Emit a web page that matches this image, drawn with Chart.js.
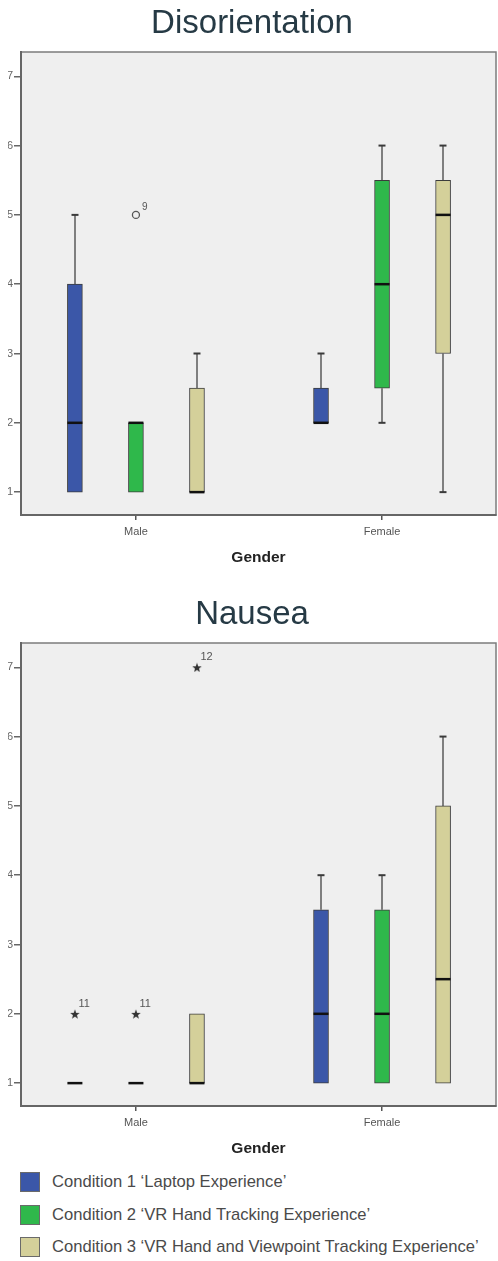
<!DOCTYPE html>
<html>
<head>
<meta charset="utf-8">
<script src="https://cdn.jsdelivr.net/npm/chart.js@4"></script>
<style>
  html, body { margin: 0; padding: 0; background: #fff; }
  body { width: 498px; height: 1261px; position: relative; overflow: hidden;
         font-family: "Liberation Sans", Arial, sans-serif; }
  canvas.plot { position: absolute; left: 0; }
  #legend { position: absolute; left: 20px; top: 1172px; }
  .item { display: flex; align-items: center; height: 20px; margin-bottom: 12.5px; }
  .sw { width: 20px; height: 20px; box-sizing: border-box; border: 1px solid #6a6a6a; margin-right: 12px; }
  .item span { font-size: 16.6px; color: #4a4a4a; white-space: nowrap; }
</style>
</head>
<body>
<canvas id="disorientation" class="plot" width="498" height="570" style="top:0px"></canvas>
<canvas id="nausea" class="plot" width="498" height="570" style="top:591px"></canvas>
<div id="legend"></div>

<script>
// Groups on the x axis and the three experimental conditions
const genders = ['Male', 'Female'];
const conditions = [
  'Condition 1 \u2018Laptop Experience\u2019',
  'Condition 2 \u2018VR Hand Tracking Experience\u2019',
  'Condition 3 \u2018VR Hand and Viewpoint Tracking Experience\u2019'
];
const yTicks = [1, 2, 3, 4, 5, 6, 7];

// Five-number summaries [min, q1, median, q3, max], one row per gender (Male, Female)
const disoLaptop = [[1, 1, 2, 4, 5], [2, 2, 2, 2.5, 3]];
const disoHand   = [[1, 1, 2, 2, 2], [2, 2.5, 4, 5.5, 6]];
const disoView   = [[1, 1, 1, 2.5, 3], [1, 3, 5, 5.5, 6]];

const nauLaptop = [[1, 1, 1, 1, 1], [1, 1, 2, 3.5, 4]];
const nauHand   = [[1, 1, 1, 1, 1], [1, 1, 2, 3.5, 4]];
const nauView   = [[1, 1, 1, 2, 2], [1, 1, 2.5, 5, 6]];

// Outlying cases: [condition index, gender index, value, case label, kind ('o' outlier, '*' extreme)]
const disoOutliers = [[1, 0, 5, '9', 'o']];
const nauOutliers = [[0, 0, 2, '11', '*'], [1, 0, 2, '11', '*'], [2, 0, 7, '12', '*']];

// ---- styling ----
const FONT = '"Liberation Sans", Arial, sans-serif';
const fills = ['#3b57a8', '#2fb84b', '#d4d09a'];
const slotOffset = [-0.248, 0, 0.248];   // where each condition sits around its gender
const BOX_W = 15;

function slotX(c, g) { return g + 1 + slotOffset[c]; }

function starImage(size, color) {
  const cv = document.createElement('canvas');
  cv.width = cv.height = size;
  const ctx = cv.getContext('2d');
  ctx.fillStyle = color;
  ctx.beginPath();
  for (let i = 0; i < 10; i++) {
    const r = i % 2 ? size * 0.21 : size * 0.5;
    const a = -Math.PI / 2 + i * Math.PI / 5;
    ctx.lineTo(size / 2 + r * Math.cos(a), size / 2 + r * Math.sin(a) + size * 0.06);
  }
  ctx.closePath();
  ctx.fill();
  return cv;
}
const starMark = starImage(10, '#333');

// Plot background and frame
const framePlugin = {
  id: 'frame',
  beforeDraw(chart) {
    const { ctx, chartArea: a } = chart;
    ctx.save();
    ctx.fillStyle = '#efefef';
    ctx.fillRect(a.left, a.top, a.right - a.left, a.bottom - a.top);
    ctx.strokeStyle = '#7c7c7c';
    ctx.lineWidth = 1.5;
    ctx.strokeRect(a.left, a.top, a.right - a.left, a.bottom - a.top);
    ctx.restore();
  }
};

// Whiskers, medians and case labels computed from the summaries via the chart scales
const boxPlugin = {
  id: 'boxparts',
  beforeDatasetsDraw(chart, args, opts) {
    const { ctx, scales: { x, y } } = chart;
    ctx.save();
    opts.summaries.forEach((rows, c) => rows.forEach((f, g) => {
      const px = Math.round(x.getPixelForValue(slotX(c, g)));
      const ends = [[f[3], f[4]], [f[1], f[0]]];
      ends.forEach(([from, to]) => {
        if (from === to) return;
        const y0 = y.getPixelForValue(from), y1 = y.getPixelForValue(to);
        ctx.strokeStyle = '#5a5a5a';
        ctx.lineWidth = 1.5;
        ctx.beginPath(); ctx.moveTo(px, y0); ctx.lineTo(px, y1); ctx.stroke();
        ctx.strokeStyle = '#3a3a3a';
        ctx.lineWidth = 2;
        ctx.beginPath(); ctx.moveTo(px - 3.5, y1); ctx.lineTo(px + 3.5, y1); ctx.stroke();
      });
    }));
    ctx.restore();
  },
  afterDatasetsDraw(chart, args, opts) {
    const { ctx, scales: { x, y } } = chart;
    ctx.save();
    opts.summaries.forEach((rows, c) => rows.forEach((f, g) => {
      const px = x.getPixelForValue(slotX(c, g));
      const py = y.getPixelForValue(f[2]);
      ctx.strokeStyle = '#111';
      ctx.lineWidth = 2.5;
      ctx.beginPath(); ctx.moveTo(px - BOX_W / 2, py); ctx.lineTo(px + BOX_W / 2, py); ctx.stroke();
    }));
    ctx.fillStyle = '#555';
    ctx.textBaseline = 'middle';
    ctx.textAlign = 'left';
    opts.outliers.forEach(([c, g, v, label, kind]) => {
      const px = x.getPixelForValue(slotX(c, g));
      const py = y.getPixelForValue(v);
      ctx.font = (kind === 'o' ? '10px ' : '11px ') + FONT;
      ctx.fillText(label, px + (kind === 'o' ? 6 : 3.5), py - (kind === 'o' ? 8 : 10));
    });
    ctx.restore();
  }
};

function makeChart(id, titleText, summaries, outliers) {
  const datasets = summaries.map((rows, c) => ({
    type: 'bar',
    label: conditions[c],
    data: rows.map((f, g) => ({ x: slotX(c, g), y: [f[1], f[3]] })),
    backgroundColor: fills[c],
    borderColor: '#3c3c3c',
    borderWidth: 1,
    borderSkipped: false,
    barThickness: BOX_W,
    grouped: false,
    order: 2
  }));
  datasets.push({
    type: 'scatter',
    label: 'outliers',
    data: outliers.map(([c, g, v]) => ({ x: slotX(c, g), y: v })),
    pointStyle: outliers.map(o => o[4] === 'o' ? 'circle' : starMark),
    pointRadius: 3.5,
    backgroundColor: 'rgba(0,0,0,0)',
    borderColor: '#555',
    borderWidth: 1.3,
    order: 1
  });

  return new Chart(document.getElementById(id), {
    type: 'bar',
    data: { datasets },
    plugins: [framePlugin, boxPlugin],
    options: {
      responsive: false,
      animation: false,
      devicePixelRatio: 1,
      layout: { autoPadding: false, padding: { left: 8, right: 2, top: 0, bottom: 0 } },
      plugins: {
        legend: { display: false },
        tooltip: { enabled: false },
        title: {
          display: true,
          text: titleText,
          color: '#263a45',
          font: { family: FONT, size: 33, weight: 'normal' },
          padding: { top: 4, bottom: 8.4 }
        },
        boxparts: { summaries, outliers }
      },
      scales: {
        x: {
          type: 'linear',
          min: 0.533,
          max: 2.463,
          offset: false,
          afterBuildTicks: s => { s.ticks = genders.map((_, i) => ({ value: i + 1 })); },
          afterFit: s => { s.height = 55; s.paddingLeft = 0; s.paddingRight = 0; },
          ticks: {
            callback: (v, i) => genders[i],
            autoSkip: false,
            maxRotation: 0,
            padding: 5,
            color: '#555',
            font: { family: FONT, size: 11 }
          },
          grid: { offset: false, drawOnChartArea: false, drawTicks: true, tickLength: 5, color: '#555', lineWidth: 1.5 },
          border: { display: true, color: '#666', width: 2 },
          title: {
            display: true,
            text: 'Gender',
            color: '#222',
            font: { family: FONT, size: 15.5, weight: 'bold' },
            padding: { top: 0, bottom: 3 }
          }
        },
        y: {
          type: 'linear',
          min: 0.67,
          max: 7.35,
          afterBuildTicks: s => { s.ticks = yTicks.map(v => ({ value: v })); },
          afterFit: s => { s.width = 13; s.paddingTop = 0; s.paddingBottom = 0; },
          ticks: { padding: 1, color: '#666', font: { family: FONT, size: 11 } },
          grid: { drawOnChartArea: false, drawTicks: true, tickLength: 7, color: '#666', lineWidth: 1.5 },
          border: { display: true, color: '#666', width: 2 }
        }
      }
    }
  });
}

makeChart('disorientation', 'Disorientation', [disoLaptop, disoHand, disoView], disoOutliers);
makeChart('nausea', 'Nausea', [nauLaptop, nauHand, nauView], nauOutliers);

// Shared legend for both plots
const legend = document.getElementById('legend');
conditions.forEach((name, c) => {
  const item = document.createElement('div');
  item.className = 'item';
  const sw = document.createElement('div');
  sw.className = 'sw';
  sw.style.background = fills[c];
  const label = document.createElement('span');
  label.textContent = name;
  item.appendChild(sw);
  item.appendChild(label);
  legend.appendChild(item);
});
</script>
</body>
</html>
